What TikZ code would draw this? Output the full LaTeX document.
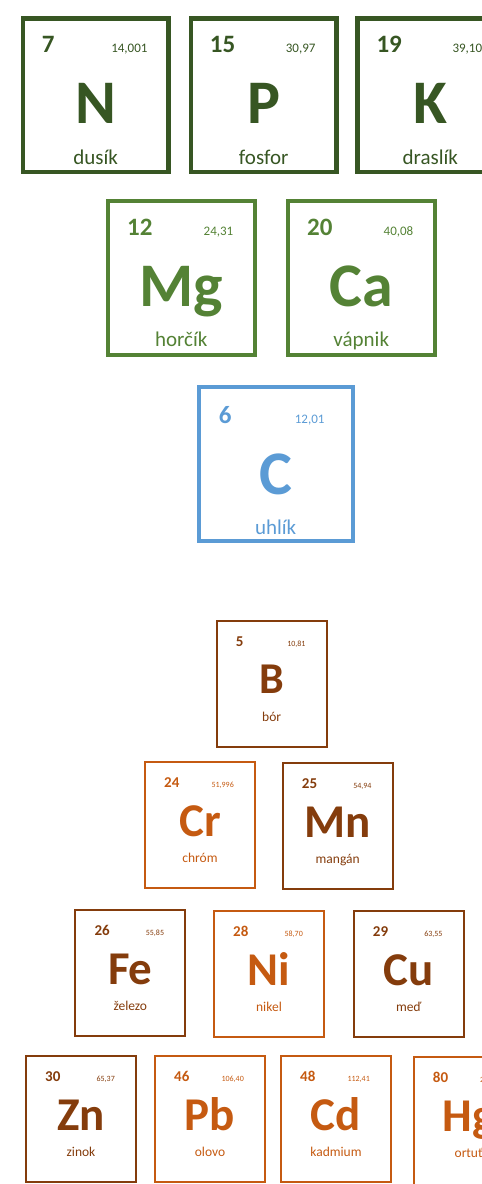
\documentclass[tikz,border=0pt]{standalone}
\usepackage{fontspec}
\setmainfont{Carlito}
\usetikzlibrary{calc}

\definecolor{leafdark}{HTML}{375623}
\definecolor{leaf}{HTML}{548235}
\definecolor{sky}{HTML}{5B9BD5}
\definecolor{rust}{HTML}{843C0C}
\definecolor{amber}{HTML}{C55A11}

\newcommand\fs[1]{\fontsize{#1}{#1}\selectfont}

\tikzset{
  x=1pt, y=-1pt,
  cell/.style={draw=#1, rectangle, inner sep=0, anchor=north west},
  txt/.style={inner sep=0},
  % large cells: N, P, K
  big/.style={cell=#1, line width=4.5, minimum width=145.5, minimum height=153.5},
  bignum/.style={txt, anchor=base west, shift={(21,36)}, font=\fs{25}\bfseries},
  bigmass/.style={txt, anchor=base east, shift={(-23,36)}, font=\fs{13}},
  bigsym/.style={txt, anchor=base, shift={(0,107)}, font=\fs{62}\bfseries},
  bigname/.style={txt, anchor=base, shift={(0,148)}, font=\fs{21}},
  % medium cells: Mg, Ca
  mid/.style={cell=#1, line width=3.5, minimum width=147, minimum height=154},
  midnum/.style={bignum},
  midmass/.style={bigmass},
  midsym/.style={bigsym},
  midname/.style={txt, anchor=base, shift={(0,147)}, font=\fs{21}},
  % carbon cell
  sq/.style={cell=#1, line width=4, minimum width=154, minimum height=154},
  sqnum/.style={txt, anchor=base west, shift={(22,38)}, font=\fs{25}\bfseries},
  sqmass/.style={txt, anchor=base east, shift={(-30,38)}, font=\fs{13}},
  sqsym/.style={txt, anchor=base, shift={(0,109)}, font=\fs{62}\bfseries},
  sqname/.style={txt, anchor=base, shift={(0,149)}, font=\fs{21}},
  % small cells: trace elements and heavy metals
  small/.style={cell=#1, line width=2, minimum width=110, minimum height=126},
  smallnum/.style={txt, anchor=base west, shift={(20,26)}, font=\fs{15}\bfseries},
  smallmass/.style={txt, anchor=base east, shift={(-22,26)}, font=\fs{8}},
  smallsym/.style={txt, anchor=base, shift={(0,75)}, font=\fs{47}\bfseries},
  smallname/.style={txt, anchor=base, shift={(0,101)}, font=\fs{13.5}},
  % boron cell: same box, slightly smaller symbol
  boron/.style={small=#1},
  boronnum/.style={smallnum},
  boronmass/.style={smallmass},
  boronsym/.style={txt, anchor=base, shift={(0,73)}, font=\fs{44}\bfseries},
  boronname/.style={smallname},
  % last cell of the bottom row, running off the page
  edge/.style={small=#1, minimum height=130},
  edgenum/.style={smallnum},
  edgemass/.style={smallmass},
  edgesym/.style={smallsym},
  edgename/.style={smallname},
}

% #1 cell kind, #2 node name, #3 left, #4 top, #5 colour,
% #6 atomic number, #7 atomic mass, #8 symbol, #9 name
\newcommand\elemcell[9]{%
  \node[#1=#5] (#2) at (#3,#4) {};
  \node[#1num, text=#5] (#2-z) at (#2.north west) {#6};
  \node[#1mass, text=#5] (#2-m) at (#2.north east) {#7};
  \node[#1sym, text=#5] (#2-s) at (#2.north) {#8};
  \node[#1name, text=#5] (#2-n) at (#2.north) {#9};
}

\begin{document}
\begin{tikzpicture}
\clip (0,0) rectangle (482,1184);

% macronutrients
\elemcell{big}{N}{20.7}{16}{leafdark}{7}{14,001}{N}{dusík}
\elemcell{big}{P}{188.7}{16}{leafdark}{15}{30,97}{P}{fosfor}
\elemcell{big}{K}{355.3}{16}{leafdark}{19}{39,10}{K}{draslík}

\elemcell{mid}{Mg}{106}{199}{leaf}{12}{24,31}{Mg}{horčík}
\elemcell{mid}{Ca}{286}{199}{leaf}{20}{40,08}{Ca}{vápnik}

\elemcell{sq}{C}{196.7}{385}{sky}{6}{12,01}{C}{uhlík}

% trace elements and heavy metals
\elemcell{boron}{B}{215.7}{620}{rust}{5}{10,81}{B}{bór}

\elemcell{small}{Cr}{144}{761}{amber}{24}{51,996}{Cr}{chróm}
\elemcell{small}{Mn}{281.7}{762}{rust}{25}{54,94}{Mn}{mangán}

\elemcell{small}{Fe}{74.3}{909}{rust}{26}{55,85}{Fe}{železo}
\elemcell{small}{Ni}{213}{910}{amber}{28}{58,70}{Ni}{nikel}
\elemcell{small}{Cu}{352.7}{910}{rust}{29}{63,55}{Cu}{meď}

\elemcell{small}{Zn}{25}{1055}{rust}{30}{65,37}{Zn}{zinok}
\elemcell{small}{Pb}{154}{1055}{amber}{46}{106,40}{Pb}{olovo}
\elemcell{small}{Cd}{280}{1055}{amber}{48}{112,41}{Cd}{kadmium}
\elemcell{edge}{Hg}{412.7}{1056}{amber}{80}{200,59}{Hg}{ortuť}
\end{tikzpicture}
\end{document}
